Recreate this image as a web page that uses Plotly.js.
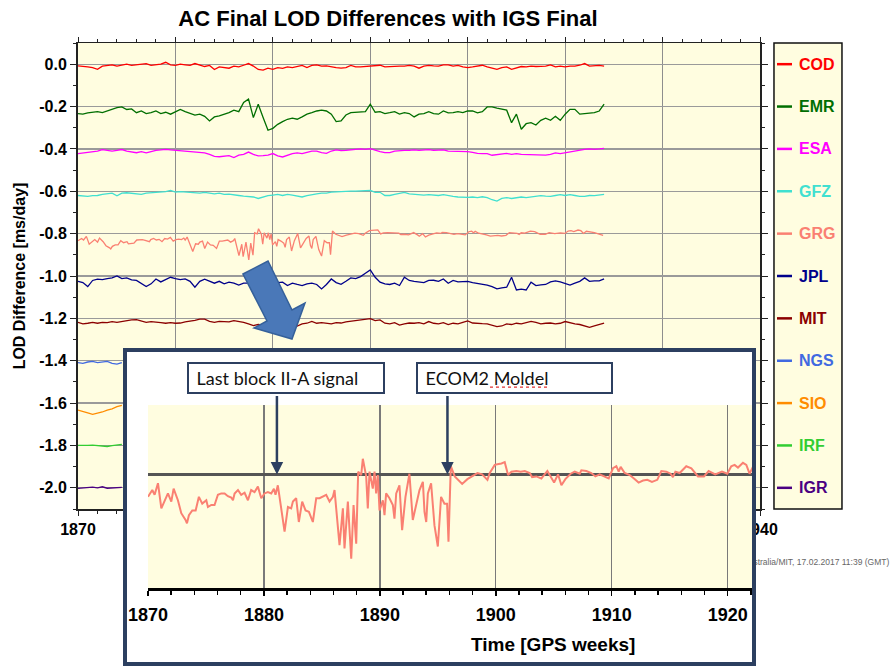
<!DOCTYPE html>
<html><head><meta charset="utf-8">
<script src="https://cdn.plot.ly/plotly-3.0.1.min.js"></script>
<style>
html,body{margin:0;padding:0;background:#fff;width:891px;height:666px;overflow:hidden;}
#main{position:absolute;left:0;top:0;width:891px;height:666px;}
#insetBox{position:absolute;left:123px;top:348px;width:633px;height:318px;box-sizing:border-box;border:4px solid #2c3f60;background:#fff;}
#inset{width:625px;height:310px;}
</style></head><body>
<div id="main"></div>
<div id="insetBox"><div id="inset"></div></div>
<script>
// ---------- data ----------
const seriesNames = ['COD','EMR','ESA','GFZ','GRG','JPL','MIT','NGS','SIO','IRF','IGR'];
const seriesColors = ['#ff0000','#006e00','#ff00ff','#40e0d0','#fa8072','#00008b','#8b0000','#4169e1','#ff8c00','#32cd32','#4b0082'];

const weeks = [1870,1870.5,1871,1871.5,1872,1872.5,1873,1873.5,1874,1874.5,
1875,1875.5,1876,1876.5,1877,1877.5,1878,1878.5,1879,1879.5,
1880,1880.5,1881,1881.5,1882,1882.5,1883,1883.5,1884,1884.5,
1885,1885.5,1886,1886.5,1887,1887.5,1888,1888.5,1889,1889.5,
1890,1890.5,1891,1891.5,1892,1892.5,1893,1893.5,1894,1894.5,
1895,1895.5,1896,1896.5,1897,1897.5,1898,1898.5,1899,1899.5,
1900,1900.5,1901,1901.5,1902,1902.5,1903,1903.5,1904,1904.5,
1905,1905.5,1906,1906.5,1907,1907.5,1908,1908.5,1909,1909.5,
1910,1910.5,1911,1911.5,1912,1912.5,1913,1913.5,1914,1914.5,
1915,1915.5,1916,1916.5,1917,1917.5,1918,1918.5,1919,1919.5,
1920,1920.5,1921,1921.5,1922,1922.5,1923,1923.5,1924];

const cod = [-0.008,-0.009,-0.013,-0.016,-0.024,-0.009,-0.006,-0.003,-0.009,-0.003,0.000,-0.006,-0.003,-0.002,0.003,-0.006,-0.003,0.000,0.009,-0.003,-0.006,0.000,-0.003,-0.006,0.003,-0.003,-0.011,-0.006,-0.025,-0.013,-0.016,-0.019,-0.009,-0.013,-0.005,0.003,-0.009,-0.025,-0.028,-0.019,-0.024,-0.016,-0.020,-0.013,-0.016,-0.011,-0.006,-0.016,-0.006,-0.003,-0.009,-0.008,-0.013,-0.016,
-0.019,-0.016,-0.006,-0.013,-0.013,-0.011,-0.009,-0.009,-0.005,-0.013,-0.011,-0.008,-0.009,-0.009,-0.006,-0.009,-0.019,-0.009,-0.006,-0.008,-0.009,-0.003,-0.003,-0.009,-0.006,-0.013,-0.016,-0.013,-0.009,-0.005,-0.013,-0.019,-0.024,-0.016,-0.013,-0.024,-0.016,-0.011,-0.013,-0.009,-0.011,-0.009,-0.009,-0.003,-0.013,-0.009,-0.013,-0.009,-0.009,-0.005,0.003,-0.009,-0.006,-0.006,-0.009];

const emr = [-0.233,-0.236,-0.230,-0.227,-0.224,-0.229,-0.221,-0.213,-0.205,-0.202,-0.214,-0.211,-0.229,-0.221,-0.233,-0.229,-0.221,-0.233,-0.227,-0.236,-0.224,-0.214,-0.224,-0.233,-0.240,-0.236,-0.246,-0.268,-0.249,-0.244,-0.236,-0.229,-0.217,-0.224,-0.181,-0.165,-0.252,-0.189,-0.252,-0.312,-0.303,-0.284,-0.271,-0.260,-0.255,-0.260,-0.249,-0.236,-0.229,-0.221,-0.217,-0.221,-0.236,-0.271,
-0.268,-0.240,-0.229,-0.227,-0.224,-0.224,-0.189,-0.227,-0.224,-0.233,-0.229,-0.224,-0.236,-0.229,-0.233,-0.249,-0.236,-0.233,-0.224,-0.233,-0.236,-0.221,-0.230,-0.229,-0.224,-0.229,-0.221,-0.221,-0.230,-0.224,-0.202,-0.202,-0.208,-0.213,-0.217,-0.276,-0.236,-0.307,-0.281,-0.276,-0.287,-0.265,-0.255,-0.265,-0.246,-0.265,-0.236,-0.213,-0.213,-0.236,-0.233,-0.233,-0.229,-0.221,-0.189];

const esa = [-0.422,-0.419,-0.416,-0.413,-0.410,-0.403,-0.407,-0.410,-0.407,-0.403,-0.410,-0.415,-0.418,-0.413,-0.419,-0.413,-0.407,-0.405,-0.402,-0.405,-0.407,-0.407,-0.410,-0.411,-0.413,-0.416,-0.419,-0.426,-0.435,-0.437,-0.433,-0.432,-0.441,-0.429,-0.426,-0.415,-0.426,-0.433,-0.432,-0.429,-0.422,-0.433,-0.438,-0.429,-0.422,-0.419,-0.422,-0.416,-0.410,-0.410,-0.418,-0.421,-0.410,-0.405,
-0.408,-0.407,-0.403,-0.402,-0.400,-0.402,-0.399,-0.407,-0.413,-0.418,-0.418,-0.410,-0.407,-0.407,-0.407,-0.405,-0.407,-0.405,-0.403,-0.407,-0.407,-0.405,-0.410,-0.411,-0.411,-0.410,-0.413,-0.416,-0.421,-0.422,-0.422,-0.430,-0.427,-0.424,-0.421,-0.426,-0.422,-0.426,-0.427,-0.427,-0.426,-0.430,-0.429,-0.426,-0.419,-0.422,-0.418,-0.411,-0.410,-0.405,-0.402,-0.400,-0.402,-0.400,-0.397];

const gfz = [-0.620,-0.621,-0.624,-0.621,-0.620,-0.615,-0.612,-0.609,-0.621,-0.609,-0.607,-0.609,-0.612,-0.615,-0.609,-0.607,-0.605,-0.605,-0.602,-0.596,-0.604,-0.602,-0.604,-0.605,-0.607,-0.609,-0.605,-0.609,-0.612,-0.609,-0.615,-0.613,-0.615,-0.620,-0.623,-0.624,-0.627,-0.634,-0.627,-0.621,-0.618,-0.615,-0.620,-0.615,-0.618,-0.621,-0.627,-0.620,-0.615,-0.612,-0.609,-0.609,-0.604,-0.602,
-0.602,-0.599,-0.599,-0.599,-0.597,-0.596,-0.596,-0.605,-0.605,-0.620,-0.620,-0.615,-0.609,-0.605,-0.612,-0.615,-0.615,-0.618,-0.616,-0.618,-0.620,-0.616,-0.621,-0.624,-0.627,-0.629,-0.629,-0.627,-0.630,-0.626,-0.630,-0.640,-0.646,-0.634,-0.630,-0.634,-0.630,-0.627,-0.630,-0.627,-0.624,-0.621,-0.623,-0.624,-0.620,-0.616,-0.620,-0.616,-0.620,-0.624,-0.624,-0.620,-0.621,-0.618,-0.615];

const jpl = [-1.025,-1.031,-1.050,-1.021,-1.015,-1.017,-1.012,-1.009,-1.000,-1.012,-1.009,-1.018,-1.021,-1.037,-1.050,-1.037,-1.014,-1.028,-1.018,-1.006,-1.012,-1.017,-1.014,-1.025,-1.053,-1.025,-1.015,-1.025,-1.034,-1.025,-1.037,-1.029,-1.034,-1.043,-1.034,-1.034,-1.040,-1.029,-1.034,-1.037,-1.034,-1.031,-1.029,-1.045,-1.034,-1.040,-1.045,-1.037,-1.034,-1.040,-1.061,-1.040,-1.014,-1.031,
-1.039,-1.025,-1.009,-1.012,-1.003,-0.987,-0.971,-1.006,-1.029,-1.037,-1.040,-1.034,-1.045,-1.006,-1.021,-1.025,-1.029,-1.031,-1.021,-1.020,-1.025,-1.014,-1.034,-1.021,-1.028,-1.025,-1.025,-1.031,-1.034,-1.037,-1.043,-1.050,-1.061,-1.056,-1.053,-1.006,-1.066,-1.062,-1.066,-1.029,-1.045,-1.042,-1.040,-1.028,-1.023,-1.028,-1.037,-1.043,-1.034,-1.025,-1.009,-1.025,-1.023,-1.023,-1.014];

const mit = [-1.219,-1.226,-1.223,-1.219,-1.223,-1.219,-1.220,-1.215,-1.219,-1.214,-1.212,-1.207,-1.206,-1.214,-1.219,-1.215,-1.219,-1.220,-1.223,-1.220,-1.223,-1.222,-1.217,-1.214,-1.209,-1.204,-1.204,-1.214,-1.219,-1.214,-1.215,-1.217,-1.211,-1.214,-1.219,-1.226,-1.234,-1.229,-1.232,-1.226,-1.223,-1.226,-1.229,-1.226,-1.232,-1.236,-1.226,-1.223,-1.214,-1.223,-1.220,-1.223,-1.226,-1.220,
-1.222,-1.217,-1.214,-1.211,-1.206,-1.203,-1.201,-1.211,-1.207,-1.223,-1.226,-1.220,-1.232,-1.226,-1.222,-1.223,-1.220,-1.226,-1.215,-1.223,-1.226,-1.220,-1.229,-1.223,-1.226,-1.219,-1.212,-1.222,-1.222,-1.225,-1.226,-1.231,-1.239,-1.236,-1.226,-1.229,-1.223,-1.226,-1.220,-1.214,-1.219,-1.226,-1.223,-1.222,-1.226,-1.223,-1.215,-1.222,-1.226,-1.229,-1.237,-1.242,-1.236,-1.229,-1.223];

// GRG (irregular sampling at the visible extremes)
const grgWeeks = [1870.00,1870.37,1870.57,1870.86,1871.15,1871.43,1871.72,1872.01,1872.21,1872.58,
1872.87,1873.24,1873.36,1873.53,1873.82,1874.11,1874.39,1874.68,1875.03,1875.17,
1875.46,1875.74,1876.03,1876.32,1876.61,1876.89,1877.18,1877.33,1877.47,1877.76,
1878.04,1878.33,1878.62,1878.90,1879.19,1879.48,1879.77,1880.05,1880.34,1880.63,
1880.86,1881.00,1881.20,1881.49,1881.78,1882.07,1882.35,1882.50,1882.78,1883.01,
1883.30,1883.59,1883.88,1884.22,1884.51,1884.80,1885.08,1885.37,1885.66,1885.95,
1886.09,1886.38,1886.52,1886.81,1886.95,1887.24,1887.53,1887.73,1887.96,1888.13,
1888.39,1888.53,1888.82,1888.96,1889.11,1889.39,1889.54,1889.68,1889.82,1889.97,
1890.26,1890.40,1890.54,1890.83,1891.12,1891.26,1891.41,1891.69,1891.92,1892.21,
1892.55,1892.84,1893.13,1893.42,1893.71,1893.85,1894.00,1894.14,1894.42,1894.71,
1895.00,1895.28,1895.57,1895.80,1895.92,
1896.12,1896.46,1896.89,1897.10,1897.55,1897.96,1898.42,1898.82,1899.28,1899.48,
1899.91,1900.14,1900.49,1900.77,1901.06,1901.35,1901.78,1902.15,1902.50,1902.93,
1903.13,1903.50,1903.93,1904.45,1904.85,1905.03,1905.37,1905.66,1906.00,1906.46,
1906.81,1907.24,1907.38,1907.81,1908.24,1908.59,1908.96,1909.34,1909.74,1910.11,
1910.40,1910.60,1910.77,1911.12,1911.55,1911.92,1912.32,1912.70,1913.07,1913.47,
1913.93,1914.28,1914.71,1915.08,1915.28,1915.49,1915.86,1916.43,1916.87,1917.44,
1917.96,1918.36,1918.93,1919.51,1919.97,1920.31,1920.60,1920.89,1921.32,1921.61,
1921.89,1922.18,1923.00,1923.90];
const grgValues = [-0.833,-0.823,-0.830,-0.813,-0.850,-0.840,-0.828,-0.840,-0.821,-0.838,
-0.857,-0.867,-0.872,-0.860,-0.853,-0.853,-0.833,-0.843,-0.838,-0.848,
-0.845,-0.845,-0.830,-0.828,-0.828,-0.832,-0.834,-0.838,-0.828,-0.823,
-0.830,-0.827,-0.838,-0.823,-0.826,-0.818,-0.835,-0.828,-0.826,-0.828,
-0.821,-0.830,-0.816,-0.850,-0.884,-0.848,-0.850,-0.840,-0.835,-0.870,
-0.840,-0.853,-0.855,-0.870,-0.835,-0.835,-0.833,-0.830,-0.840,-0.833,
-0.823,-0.875,-0.904,-0.850,-0.909,-0.840,-0.924,-0.845,-0.902,-0.796,
-0.801,-0.777,-0.803,-0.850,-0.796,-0.821,-0.796,-0.828,-0.801,-0.853,
-0.838,-0.860,-0.828,-0.835,-0.845,-0.865,-0.828,-0.816,-0.882,-0.833,
-0.799,-0.867,-0.843,-0.823,-0.811,-0.855,-0.870,-0.828,-0.813,-0.875,
-0.906,-0.833,-0.843,-0.843,-0.899,
-0.788,-0.803,-0.811,-0.814,-0.807,-0.803,-0.798,-0.800,-0.808,-0.798,
-0.786,-0.785,-0.784,-0.782,-0.801,-0.796,-0.795,-0.796,-0.795,-0.798,
-0.804,-0.803,-0.806,-0.795,-0.806,-0.812,-0.800,-0.816,-0.807,-0.799,
-0.796,-0.799,-0.794,-0.795,-0.798,-0.803,-0.800,-0.803,-0.806,-0.791,
-0.788,-0.796,-0.789,-0.798,-0.801,-0.806,-0.812,-0.809,-0.808,-0.811,
-0.808,-0.795,-0.796,-0.799,-0.804,-0.796,-0.798,-0.788,-0.791,-0.803,
-0.803,-0.795,-0.800,-0.796,-0.799,-0.788,-0.786,-0.790,-0.783,-0.786,
-0.799,-0.789,-0.795,-0.808];

// series only visible left of the inset
const shortWeeks = [1870,1870.5,1871,1871.5,1872,1872.5,1873,1873.5,1874,1874.5];
const ngs = [-1.409,-1.412,-1.406,-1.403,-1.409,-1.406,-1.403,-1.412,-1.416,-1.409];
const sio = [-1.633,-1.638,-1.646,-1.653,-1.649,-1.642,-1.633,-1.627,-1.617,-1.611];
const irf = [-1.800,-1.801,-1.800,-1.798,-1.800,-1.803,-1.805,-1.801,-1.798,-1.795];
const igr = [-2.003,-2.002,-2.000,-1.997,-2.000,-1.995,-2.002,-2.000,-1.997,-1.998];

const yTickVals = [0,-0.2,-0.4,-0.6,-0.8,-1.0,-1.2,-1.4,-1.6,-1.8,-2.0];
const yTickText = ['0.0','-0.2','-0.4','-0.6','-0.8','-1.0','-1.2','-1.4','-1.6','-1.8','-2.0'];
const yMinorVals = [0.1,-0.1,-0.3,-0.5,-0.7,-0.9,-1.1,-1.3,-1.5,-1.7,-1.9,-2.1];

const insetRefLine = [-0.8];
const eventWeeks = [1881.12, 1895.83];
const eventLabels = ['\u00a0Last block II-A signal', '\u00a0ECOM2 Moldel'];

// ---------- main chart ----------
const FONT = 'Liberation Sans, Arial, Helvetica, sans-serif';
const seriesX = {COD:weeks, EMR:weeks, ESA:weeks, GFZ:weeks, GRG:grgWeeks, JPL:weeks, MIT:weeks, NGS:shortWeeks, SIO:shortWeeks, IRF:shortWeeks, IGR:shortWeeks};
const seriesY = {COD:cod, EMR:emr, ESA:esa, GFZ:gfz, GRG:grgValues, JPL:jpl, MIT:mit, NGS:ngs, SIO:sio, IRF:irf, IGR:igr};

const traces = seriesNames.map((n,i)=>({
  type:'scatter', mode:'lines', name:n, x:seriesX[n], y:seriesY[n],
  line:{color:seriesColors[i], width:1.3}, hoverinfo:'skip'
}));

const shapes = [];
const annotations = [];
// legend box
shapes.push({type:'rect', xref:'paper', yref:'paper', x0:1.0205, x1:1.1202, y0:0, y1:1,
  fillcolor:'#fffde0', line:{color:'#111', width:1.5}, layer:'below'});
seriesNames.forEach((n,i)=>{
  shapes.push({type:'line', xref:'paper', yref:'y', x0:1.0249, x1:1.0469, y0:yTickVals[i], y1:yTickVals[i],
    line:{color:seriesColors[i], width:2.5}, layer:'above'});
  annotations.push({xref:'paper', yref:'y', x:1.0543, y:yTickVals[i], xanchor:'left', yanchor:'middle',
    text:'<b>'+n+'</b>', showarrow:false, font:{family:FONT, size:16, color:seriesColors[i]}});
});
// big arrow pointing to the inset
shapes.push({type:'path', xref:'paper', yref:'paper', layer:'above',
  path:'M0.2419,0.5043 L0.2786,0.5322 L0.3138,0.4270 L0.3328,0.4421 L0.3138,0.3648 L0.2581,0.3884 L0.2771,0.4034 Z',
  fillcolor:'#4a78b8', line:{color:'#35609a', width:1.5}});
// credit line
annotations.push({xref:'paper', yref:'paper', x:1.192, y:-0.1137, xanchor:'right', yanchor:'middle',
  text:'Australia/MIT, 17.02.2017 11:39 (GMT)', showarrow:false, font:{family:FONT, size:8.5, color:'#666'}});

const layout = {
  width:891, height:666,
  margin:{l:78, r:131, t:43, b:157, pad:0},
  paper_bgcolor:'#ffffff', plot_bgcolor:'#fffde0',
  showlegend:false,
  font:{family:FONT, color:'#000'},
  title:{text:'AC Final LOD Differences with IGS Final', font:{family:FONT, size:22, weight:'bold', color:'#000'},
    xref:'container', x:388/891, xanchor:'center', yref:'container', y:1-18/666, yanchor:'middle'},
  xaxis:{range:[1870,1940], tickmode:'linear', tick0:1870, dtick:10,
    ticks:'outside', ticklen:5, tickwidth:1, tickcolor:'#222',
    showline:true, linecolor:'#222', linewidth:1.5, mirror:'ticks',
    showgrid:true, gridcolor:'#8e8e8e', gridwidth:1, zeroline:false,
    tickfont:{family:FONT, size:16, weight:'bold', color:'#000'},
    minor:{tick0:1870, dtick:2, ticks:'outside', ticklen:3, tickcolor:'#222', showgrid:false}},
  yaxis:{range:[-2.1,0.1], tickmode:'array', tickvals:yTickVals, ticktext:yTickText,
    ticks:'outside', ticklen:6, tickwidth:1, tickcolor:'#222',
    showline:true, linecolor:'#222', linewidth:2, mirror:'ticks',
    showgrid:true, gridcolor:'#9a9a9a', gridwidth:1.2, zeroline:false,
    tickfont:{family:FONT, size:16, weight:'bold', color:'#000'},
    title:{text:'LOD Difference [ms/day]', font:{family:FONT, size:16, weight:'bold', color:'#000'}, standoff:10},
    minor:{tickmode:'array', tickvals:yMinorVals, ticks:'outside', ticklen:3, tickcolor:'#222', showgrid:false}},
  shapes:shapes, annotations:annotations
};

Plotly.newPlot('main', traces, layout, {staticPlot:true, displayModeBar:false});

// ---------- inset (zoom on GRG) ----------
const grgIdx = seriesNames.indexOf('GRG');
const insetTraces = [{type:'scatter', mode:'lines', name:'GRG', x:grgWeeks, y:grgValues,
  line:{color:seriesColors[grgIdx], width:2}, hoverinfo:'skip'}];

const NAVY = '#2c3f60';
const CAL = 'Lato, "Open Sans", sans-serif';
const insetAnn = [];
const boxX = [0.0646, 0.4437];
eventLabels.forEach((t,i)=>{
  insetAnn.push({xref:'paper', yref:'paper', x:boxX[i], y:1.235, xanchor:'left', yanchor:'top',
    text:t, showarrow:false, align:'left', width:[188,187][i], height:22,
    bordercolor:NAVY, borderwidth:2, borderpad:3, bgcolor:'rgba(0,0,0,0)',
    font:{family:CAL, size:18, color:'#111'}});
  insetAnn.push({xref:'x', yref:'y', x:eventWeeks[i], y:insetRefLine[0], text:'', showarrow:true,
    axref:'pixel', ayref:'pixel', ax:0, ay:-80, arrowhead:2, arrowsize:1, arrowwidth:2.5, arrowcolor:NAVY, standoff:0});
});
insetAnn.push({xref:'paper', yref:'paper', x:0.6705, y:-0.311, xanchor:'center', yanchor:'middle',
  text:'Time [GPS weeks]', showarrow:false, font:{family:FONT, size:19, weight:'bold', color:'#000'}});

const insetLayout = {
  width:625, height:310,
  margin:{l:21, r:0, t:53, b:74, pad:0},
  paper_bgcolor:'#ffffff', plot_bgcolor:'#fffde0', showlegend:false,
  font:{family:FONT, color:'#000'},
  xaxis:{range:[1870,1922.1], tickmode:'linear', tick0:1870, dtick:10,
    ticks:'outside', ticklen:5, tickwidth:1.5, tickcolor:'#000',
    showline:true, linecolor:'#000', linewidth:2.5, ticklabelstandoff:4,
    showgrid:true, gridcolor:'#7a7a7a', gridwidth:1.3, zeroline:false,
    tickfont:{family:FONT, size:18, weight:'bold', color:'#000'},
    minor:{tick0:1870, dtick:2, ticks:'outside', ticklen:4, tickcolor:'#000', showgrid:false}},
  yaxis:{range:[-0.967,-0.698], tickmode:'array', tickvals:insetRefLine, showticklabels:false, ticks:'',
    showgrid:true, gridcolor:'#555', gridwidth:2.5, zeroline:false, showline:false},
  annotations:insetAnn,
  shapes:[{type:'line', xref:'paper', yref:'paper', x0:0.5662, x1:0.6606, y0:1.098, y1:1.098,
    line:{color:'#e03030', width:1.2, dash:'dot'}, layer:'above'}]
};

Plotly.newPlot('inset', insetTraces, insetLayout, {staticPlot:true, displayModeBar:false});
</script></body></html>
